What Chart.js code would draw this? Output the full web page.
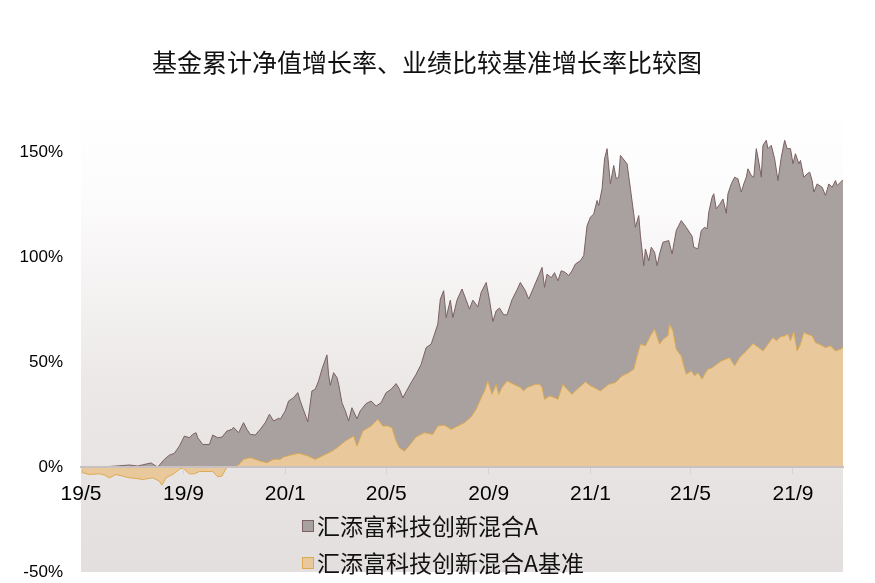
<!DOCTYPE html>
<html>
<head>
<meta charset="utf-8">
<script src="https://cdn.jsdelivr.net/npm/chart.js@4"></script>
<style>
html,body{margin:0;padding:0;background:#ffffff;}
#wrap{width:875px;height:583px;position:relative;}
</style>
</head>
<body>
<div id="wrap"><canvas id="c" width="875" height="583"></canvas></div>
<script>
const chartTitle = '基金累计净值增长率、业绩比较基准增长率比较图';
const fundLabel = '汇添富科技创新混合A';
const benchLabel = '汇添富科技创新混合A基准';
const startDate = '2019-05-01';

const xTickDates = ['2019-05-01','2019-09-01','2020-01-01','2020-05-01','2020-09-01','2021-01-01','2021-05-01','2021-09-01'];
const xTickLabels = ['19/5','19/9','20/1','20/5','20/9','21/1','21/5','21/9'];
const yTickValues = [-50, 0, 50, 100, 150];

const fundDates = [
'2019-05-01','2019-05-23','2019-06-12','2019-06-28','2019-07-08','2019-07-24','2019-07-28','2019-08-01','2019-08-09','2019-08-15',
'2019-08-21','2019-08-27','2019-09-02','2019-09-08','2019-09-12','2019-09-16','2019-09-18','2019-09-24','2019-10-02','2019-10-06',
'2019-10-12','2019-10-17','2019-10-23','2019-10-29','2019-10-31','2019-11-06','2019-11-12','2019-11-16','2019-11-20','2019-11-26',
'2019-12-02','2019-12-08','2019-12-13','2019-12-18','2019-12-24','2019-12-26','2020-01-01','2020-01-05','2020-01-11','2020-01-16',
'2020-01-19','2020-01-28','2020-02-02','2020-02-06','2020-02-10','2020-02-14','2020-02-20','2020-02-22','2020-02-24','2020-02-28',
'2020-03-03','2020-03-05','2020-03-09','2020-03-13','2020-03-17','2020-03-21','2020-03-27','2020-03-31','2020-04-07','2020-04-13',
'2020-04-19','2020-04-25','2020-05-01','2020-05-07','2020-05-13','2020-05-17','2020-05-21','2020-05-25','2020-05-31','2020-06-06',
'2020-06-12','2020-06-18','2020-06-24','2020-06-28','2020-07-02','2020-07-05','2020-07-09','2020-07-12','2020-07-17','2020-07-20',
'2020-07-25','2020-07-31','2020-08-05','2020-08-09','2020-08-13','2020-08-19','2020-08-23','2020-08-29','2020-09-02','2020-09-06',
'2020-09-10','2020-09-14','2020-09-19','2020-09-23','2020-09-29','2020-10-05','2020-10-09','2020-10-15','2020-10-19','2020-10-25',
'2020-10-31','2020-11-04','2020-11-07','2020-11-10','2020-11-15','2020-11-19','2020-11-23','2020-11-27','2020-12-02','2020-12-06',
'2020-12-10','2020-12-14','2020-12-20','2020-12-24','2020-12-28','2021-01-01','2021-01-05','2021-01-09','2021-01-11','2021-01-15',
'2021-01-18','2021-01-21','2021-01-25','2021-01-29','2021-02-01','2021-02-04','2021-02-06','2021-02-14','2021-02-18','2021-02-22',
'2021-02-24','2021-02-28','2021-03-02','2021-03-06','2021-03-08','2021-03-12','2021-03-15','2021-03-19','2021-03-22','2021-03-25',
'2021-03-29','2021-04-05','2021-04-09','2021-04-14','2021-04-20','2021-04-26','2021-05-03','2021-05-05','2021-05-10','2021-05-14',
'2021-05-18','2021-05-21','2021-05-23','2021-05-27','2021-05-29','2021-06-01','2021-06-05','2021-06-09','2021-06-13','2021-06-15',
'2021-06-19','2021-06-23','2021-06-27','2021-07-01','2021-07-04','2021-07-07','2021-07-09','2021-07-13','2021-07-16','2021-07-19',
'2021-07-22','2021-07-25','2021-07-27','2021-07-31','2021-08-02','2021-08-06','2021-08-10','2021-08-14','2021-08-18','2021-08-22',
'2021-08-25','2021-08-29','2021-09-01','2021-09-04','2021-09-08','2021-09-10','2021-09-14','2021-09-18','2021-09-21','2021-09-24',
'2021-09-26','2021-09-30','2021-10-06','2021-10-10','2021-10-14','2021-10-18','2021-10-22','2021-10-24','2021-10-28','2021-10-31'
];
const fundValues = [
0,0,0.5,1.0,0.5,2.0,1.0,0,3.7,5.7,
6.6,10,14.8,14,15.6,16.4,14,10.8,10.8,15.3,
14,14.3,17.2,18,19,16.4,21.2,18,15.6,15.3,
18,21.2,25.2,22,23.3,22.8,26.8,31.5,33.1,35.5,
31.5,21.6,36.3,37.1,41.1,46.7,53.5,44,39,45,
42.7,39.5,30.7,26.8,22,28.3,23,26.8,30.3,31.5,
29.1,30.7,35.5,37.1,39.8,37.1,33,36,40.3,44.3,
49,57,58.6,63.4,68.2,80.1,84.1,71.3,79.6,71.3,
79.6,84.9,79.6,75.3,79.6,76.4,83.3,88,79.6,69.4,
74.5,75.8,72.6,72.6,79.8,84.5,88,84.1,80.1,85.7,
91.3,95.2,85.7,92,90.3,92.7,88.8,93.6,92.8,91.3,
93.6,96.8,98.4,100.8,115.1,119.1,120.7,127.1,124.7,132.7,
147,151.8,135,143.8,137.5,138.2,148.6,144.6,132.7,120.7,
114.3,119.9,110.4,96,104,98.4,104.8,102.4,96,101.6,
107.2,108,101.6,112.8,117.5,114.3,110,104.8,104,112.8,
114.3,113.6,121.5,128.7,130.3,123.1,125.2,127.8,121,130.3,
135,138.2,137.4,131.1,135,138.2,142.2,139,138.2,151.8,
145.4,138.2,153.4,155.8,151.8,153.4,147,136.6,147.8,155.8,
151.8,151.8,144.6,149.4,144.6,146.2,138.2,139.8,140.6,136.6,
131.1,135,133.4,129.5,135,133.4,136.6,134.2,135.8,137
];

const benchDates = [
'2019-05-01','2019-05-03','2019-05-11','2019-05-23','2019-05-29','2019-06-04','2019-06-12','2019-06-20','2019-06-28','2019-07-06',
'2019-07-14','2019-07-26','2019-08-03','2019-08-06','2019-08-11','2019-08-19','2019-08-27','2019-08-29','2019-09-02','2019-09-08',
'2019-09-14','2019-09-20','2019-09-28','2019-10-06','2019-10-12','2019-10-17','2019-10-23','2019-10-31','2019-11-06','2019-11-12',
'2019-11-20','2019-11-26','2019-12-02','2019-12-10','2019-12-18','2019-12-26','2019-12-30','2020-01-07','2020-01-17','2020-01-27',
'2020-02-06','2020-02-16','2020-02-26','2020-03-03','2020-03-13','2020-03-23','2020-03-27','2020-04-03','2020-04-13','2020-04-21',
'2020-04-27','2020-05-03','2020-05-08','2020-05-13','2020-05-17','2020-05-23','2020-05-29','2020-06-06','2020-06-16','2020-06-26',
'2020-07-02','2020-07-10','2020-07-18','2020-07-26','2020-08-03','2020-08-11','2020-08-17','2020-08-23','2020-08-27','2020-08-31',
'2020-09-05','2020-09-10','2020-09-13','2020-09-17','2020-09-23','2020-10-01','2020-10-09','2020-10-13','2020-10-17','2020-10-23',
'2020-10-27','2020-11-01','2020-11-04','2020-11-07','2020-11-13','2020-11-19','2020-11-23','2020-11-29','2020-12-04','2020-12-10',
'2020-12-16','2020-12-26','2021-01-01','2021-01-05','2021-01-13','2021-01-23','2021-01-31','2021-02-08','2021-02-16','2021-02-22',
'2021-02-26','2021-03-02','2021-03-08','2021-03-14','2021-03-19','2021-03-25','2021-03-29','2021-04-04','2021-04-06','2021-04-10',
'2021-04-14','2021-04-20','2021-04-23','2021-04-26','2021-05-02','2021-05-06','2021-05-10','2021-05-15','2021-05-18','2021-05-22',
'2021-05-27','2021-06-07','2021-06-17','2021-06-23','2021-06-29','2021-07-07','2021-07-15','2021-07-21','2021-07-27','2021-08-02',
'2021-08-08','2021-08-12','2021-08-17','2021-08-22','2021-08-26','2021-08-29','2021-09-02','2021-09-06','2021-09-10','2021-09-14',
'2021-09-20','2021-09-24','2021-09-28','2021-10-04','2021-10-10','2021-10-16','2021-10-22','2021-10-28','2021-10-31'
];
const benchValues = [
0,-2.7,-3.5,-3.2,-3.8,-5.1,-3.5,-4.3,-5.1,-5.4,
-5.9,-5.1,-6.7,-8.6,-5.1,-3.5,-1.1,-0.5,-1.1,-3.2,
-3.2,-2.1,-2.1,-2.1,-4.6,-4.3,0,0,1,3.7,
4.5,3.7,2.9,2.1,3.7,3.7,4.8,5.7,6.6,5.5,
3.7,5.6,7.6,9.2,12.4,14.8,10,17.2,19.6,22.8,
19.6,19.6,18.8,12.4,9.2,7.6,10.4,14.4,16.4,15.6,
19.6,20,18,19.6,21.2,24,27.6,33.1,36.3,41.1,
34.7,39.5,34.7,38,41.1,39.5,38,36.3,38,38.8,
39.5,39.5,38,32.3,33.9,33.1,32.3,39.5,37.1,34.7,
37.1,40.6,38.8,38.1,36.3,39.5,40.3,43.5,45,46.7,
53,58.6,57.8,62.6,65.8,58.6,60.9,62.6,68.2,65,
56.2,53,48.3,44.3,45.9,43.5,45,41.9,44.3,46.7,
47.4,50.6,52.2,48.3,52.2,55.4,58.9,57.3,55.4,58.6,
61.8,60.2,62.1,62.6,63.4,60.2,64.6,55.4,58.6,64.2,
63.1,62.6,59.4,58.3,57,57.8,55.4,56.2,57
];

const dayOf = d => Math.round((Date.parse(d) - Date.parse(startDate)) / 86400000);
const toPoints = (dates, vals) => dates.map((d, i) => ({ x: dayOf(d), y: vals[i] }));
const xTickDays = xTickDates.map(dayOf);
const lastDay = dayOf(fundDates[fundDates.length - 1]);

const bgPlugin = {
  id: 'bgGradient',
  beforeDraw(chart) {
    const { ctx, chartArea: a } = chart;
    const g = ctx.createLinearGradient(0, a.top, 0, a.bottom);
    g.addColorStop(0, '#ffffff');
    g.addColorStop(0.2, '#fdfcfc');
    g.addColorStop(0.6, '#ece8e8');
    g.addColorStop(1, '#e4dfdf');
    ctx.save();
    ctx.fillStyle = g;
    ctx.fillRect(a.left, a.top, a.right - a.left, a.bottom - a.top);
    ctx.restore();
  }
};

const titlePlugin = {
  id: 'customTitle',
  afterDraw(chart) {
    const ctx = chart.ctx;
    ctx.save();
    ctx.font = '25px "Noto Sans CJK SC", sans-serif';
    ctx.fillStyle = '#111111';
    ctx.textAlign = 'center';
    ctx.textBaseline = 'middle';
    ctx.fillText(chartTitle, 427, 62);
    ctx.restore();
  }
};

const legendPlugin = {
  id: 'innerLegend',
  afterDraw(chart) {
    const ctx = chart.ctx;
    const rows = [526, 563];
    ctx.save();
    chart.data.datasets.forEach((ds, i) => {
      const cy = rows[i];
      ctx.fillStyle = ds.backgroundColor;
      ctx.fillRect(302, cy - 6, 12, 12);
      ctx.strokeStyle = ds.borderColor;
      ctx.lineWidth = 1;
      ctx.strokeRect(302.5, cy - 5.5, 11, 11);
      ctx.fillStyle = '#111111';
      ctx.font = '23px "Noto Sans CJK SC", sans-serif';
      ctx.textAlign = 'left';
      ctx.textBaseline = 'middle';
      ctx.fillText(ds.label, 317, cy);
    });
    ctx.restore();
  }
};

new Chart(document.getElementById('c'), {
  type: 'line',
  data: {
    datasets: [
      {
        label: fundLabel,
        data: toPoints(fundDates, fundValues),
        borderColor: '#7b6163',
        backgroundColor: '#a9a0a0',
        borderWidth: 1,
        pointRadius: 0,
        tension: 0,
        fill: 'origin',
        order: 2
      },
      {
        label: benchLabel,
        data: toPoints(benchDates, benchValues),
        borderColor: '#dcaa50',
        backgroundColor: '#e9c99b',
        borderWidth: 1,
        pointRadius: 0,
        tension: 0,
        fill: 'origin',
        order: 1
      }
    ]
  },
  options: {
    responsive: false,
    animation: false,
    devicePixelRatio: 1,
    layout: { padding: { top: 100, right: 32, bottom: 11, left: 0 } },
    plugins: {
      legend: { display: false },
      tooltip: { enabled: false },
      title: { display: false }
    },
    scales: {
      x: {
        type: 'linear',
        position: { y: 0 },
        min: 0,
        max: lastDay,
        afterBuildTicks: s => { s.ticks = xTickDays.map(v => ({ value: v })); },
        afterFit: s => { s.height = 0; },
        ticks: {
          z: 1,
          autoSkip: false,
          maxRotation: 0,
          padding: 8,
          color: '#000000',
          font: { size: 21, family: '"Liberation Sans", Arial, sans-serif' },
          callback: v => { const i = xTickDays.indexOf(v); return i >= 0 ? xTickLabels[i] : ''; }
        },
        grid: { drawOnChartArea: false, drawTicks: true, tickLength: 6, color: '#d9d2d2', z: 1 },
        border: { display: true, color: '#c9c1c1', width: 2, z: 1 }
      },
      y: {
        min: -50,
        max: 175,
        afterBuildTicks: s => { s.ticks = yTickValues.map(v => ({ value: v })); },
        afterFit: s => { s.width = 81; },
        ticks: {
          padding: 0,
          color: '#000000',
          font: { size: 17, family: '"Liberation Sans", Arial, sans-serif' },
          callback: v => v + '%'
        },
        grid: { display: true, drawOnChartArea: false, drawTicks: true, tickLength: 18, color: 'rgba(0,0,0,0)' },
        border: { display: false }
      }
    }
  },
  plugins: [bgPlugin, titlePlugin, legendPlugin]
});
</script>
</body>
</html>
